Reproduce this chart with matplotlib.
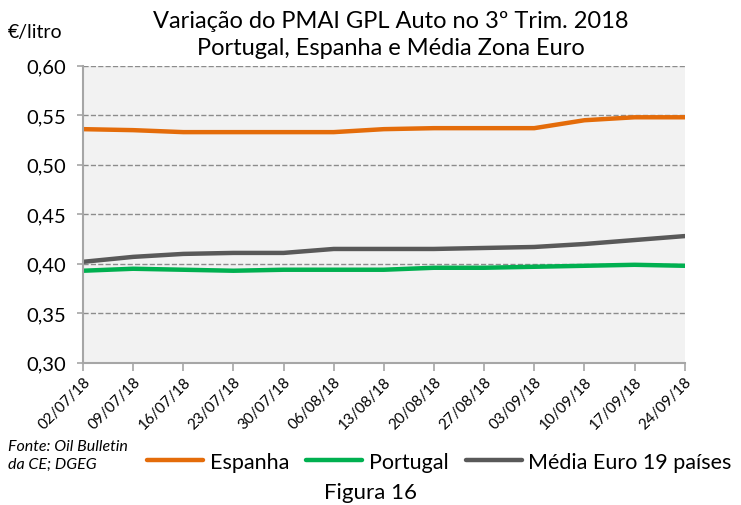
import numpy as np
import matplotlib.pyplot as plt

plt.rcParams['font.family'] = ['Lato', 'DejaVu Sans']

datas = ['02/07/18', '09/07/18', '16/07/18', '23/07/18', '30/07/18', '06/08/18',
         '13/08/18', '20/08/18', '27/08/18', '03/09/18', '10/09/18', '17/09/18', '24/09/18']
espanha = [0.536, 0.535, 0.533, 0.533, 0.533, 0.533, 0.536, 0.537, 0.537, 0.537, 0.545, 0.548, 0.548]
portugal = [0.393, 0.395, 0.394, 0.393, 0.394, 0.394, 0.394, 0.396, 0.396, 0.397, 0.398, 0.399, 0.398]
media_euro = [0.402, 0.407, 0.410, 0.411, 0.411, 0.415, 0.415, 0.415, 0.416, 0.417, 0.420, 0.424, 0.428]

fig = plt.figure(figsize=(7.41, 5.06), dpi=100)
ax = fig.add_axes([0.112, 0.281, 0.812, 0.587])
ax.set_facecolor('#f2f2f2')

x = np.arange(len(datas))
ax.plot(x, espanha, color='#E46C0A', lw=3.2, label='Espanha', solid_capstyle='round')
ax.plot(x, portugal, color='#00B050', lw=3.2, label='Portugal', solid_capstyle='round')
ax.plot(x, media_euro, color='#595959', lw=3.2, label='Média Euro 19 países', solid_capstyle='round')

ax.set_xlim(0, len(datas) - 1)
ax.set_ylim(0.30, 0.60)
yt = np.arange(0.30, 0.601, 0.05)
ax.set_yticks(yt)
ax.set_yticklabels([f'{v:.2f}'.replace('.', ',') for v in yt], fontsize=14.5)
ax.set_xticks(x)
ax.set_xticklabels(datas, rotation=45, ha='right', rotation_mode='anchor', fontsize=11)
ax.grid(axis='y', color='#8c8c8c', ls='--', lw=1)
ax.set_axisbelow(True)
for s in ['top', 'right']:
    ax.spines[s].set_visible(False)
for s in ['left', 'bottom']:
    ax.spines[s].set_color('#a6a6a6')
    ax.spines[s].set_linewidth(1.5)
ax.tick_params(axis='x', length=6, color='#a6a6a6', width=1.2, pad=2)
ax.tick_params(axis='y', length=4, color='#a6a6a6', width=1.2, pad=8)

fig.text(0.527, 0.931, 'Variação do PMAI GPL Auto no 3º Trim. 2018\nPortugal, Espanha e Média Zona Euro',
         ha='center', va='center', fontsize=17, linespacing=1.4)
fig.text(0.011, 0.935, '€/litro', fontsize=14, va='center')
fig.text(0.011, 0.099, 'Fonte: Oil Bulletin\nda CE; DGEG', fontsize=11.5, style='italic',
         va='center', linespacing=1.35)
fig.text(0.5, 0.025, 'Figura 16', fontsize=16, ha='center', va='center')

fig.legend(loc='center', bbox_to_anchor=(0.593, 0.085), ncol=3, frameon=False,
           fontsize=15.5, handlelength=2.6, columnspacing=0.8, handletextpad=0.3)

fig.savefig('out.png', dpi=100)
